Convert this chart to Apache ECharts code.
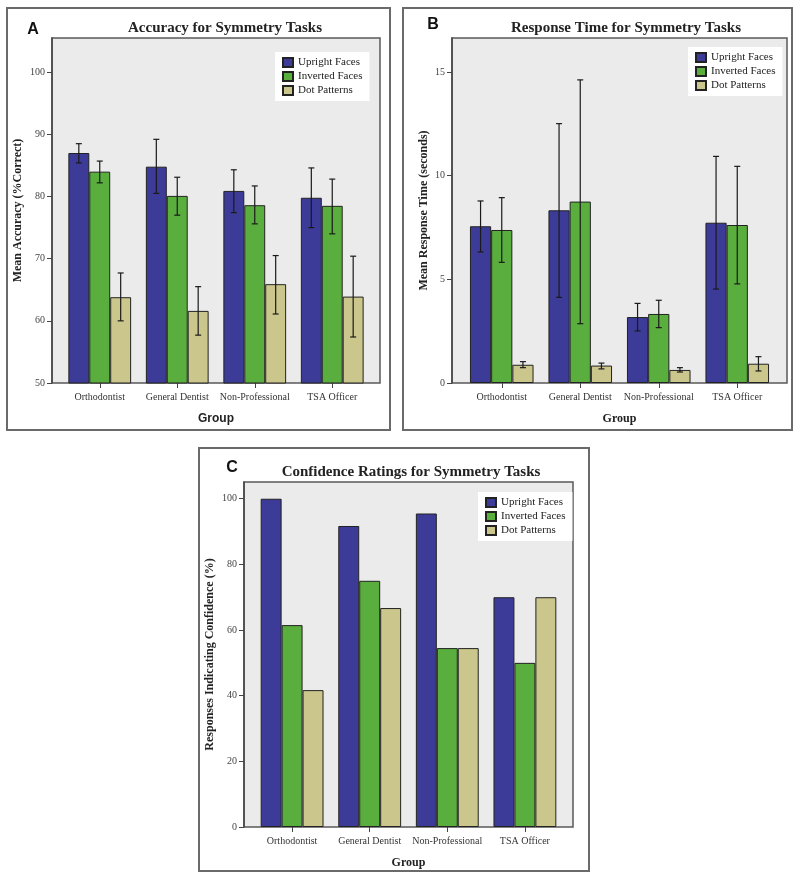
<!DOCTYPE html>
<html>
<head>
<meta charset="utf-8">
<script src="https://cdn.jsdelivr.net/npm/echarts@6/dist/echarts.min.js"></script>
<style>html,body{margin:0;padding:0;background:#fff}#c{width:800px;height:881px}</style>
</head>
<body>
<div id="c"></div>
<script>
// ---------- data ----------
var groups = ['Orthodontist', 'General Dentist', 'Non-Professional', 'TSA Officer'];
var seriesNames = ['Upright Faces', 'Inverted Faces', 'Dot Patterns'];

// Panel A: accuracy (% correct)
var accUpright = [87.0, 84.8, 80.9, 79.8];
var accInverted = [84.0, 80.1, 78.6, 78.5];
var accDot = [63.8, 61.6, 65.9, 63.9];
var accUprightErr = [[85.4, 88.5], [80.5, 89.2], [77.4, 84.3], [75.0, 84.6]];
var accInvertedErr = [[82.2, 85.7], [77.0, 83.1], [75.6, 81.7], [74.0, 82.8]];
var accDotErr = [[60.0, 67.7], [57.7, 65.5], [61.1, 70.5], [57.4, 70.4]];
var accTicks = [50, 60, 70, 80, 90, 100];

// Panel B: response time (seconds)
var rtUpright = [7.56, 8.33, 3.18, 7.73];
var rtInverted = [7.38, 8.75, 3.33, 7.62];
var rtDot = [0.88, 0.84, 0.63, 0.93];
var rtUprightErr = [[6.32, 8.78], [4.13, 12.51], [2.51, 3.84], [4.53, 10.93]];
var rtInvertedErr = [[5.82, 8.94], [2.86, 14.62], [2.67, 3.99], [4.78, 10.45]];
var rtDotErr = [[0.74, 1.03], [0.68, 0.96], [0.53, 0.74], [0.58, 1.27]];
var rtTicks = [0, 5, 10, 15];

// Panel C: confidence (%)
var confUpright = [100, 91.7, 95.5, 70];
var confInverted = [61.5, 75, 54.5, 50];
var confDot = [41.7, 66.7, 54.5, 70];
var confTicks = [0, 20, 40, 60, 80, 100];

// ---------- style ----------
var COLORS = ['#3c3c98', '#5aae3e', '#cbc68c'];
var SERIF = 'Liberation Serif';
var SANS = 'Liberation Sans';
var GAP = 0.19;

var chart = echarts.init(document.getElementById('c'));

function errRender(params, api) {
  var cat = api.value(0), s = api.value(1), lo = api.value(2), hi = api.value(3);
  var band = api.size([1, 0])[0];
  var barW = band * (1 - GAP) / 3;
  var pLo = api.coord([cat, lo]), pHi = api.coord([cat, hi]);
  var x = pLo[0] + (s - 1) * barW;
  var st = { stroke: '#1a1a1a', lineWidth: 1.2 };
  var cap = 3;
  return {
    type: 'group',
    children: [
      { type: 'line', shape: { x1: x, y1: pLo[1], x2: x, y2: pHi[1] }, style: st },
      { type: 'line', shape: { x1: x - cap, y1: pHi[1], x2: x + cap, y2: pHi[1] }, style: st },
      { type: 'line', shape: { x1: x - cap, y1: pLo[1], x2: x + cap, y2: pLo[1] }, style: st }
    ]
  };
}

function errData(errs) {
  var out = [];
  errs.forEach(function (arr, s) {
    arr.forEach(function (e, i) { out.push([i, s, e[0], e[1]]); });
  });
  return out;
}

function barSeries(idx, vals) {
  return vals.map(function (v, s) {
    return {
      type: 'bar', name: seriesNames[s], xAxisIndex: idx, yAxisIndex: idx,
      data: v, barGap: '0%', barCategoryGap: (GAP * 100) + '%',
      itemStyle: { color: COLORS[s], borderColor: '#222', borderWidth: 1 },
      emphasis: { disabled: true }, animation: false
    };
  });
}

var panels = [
  { plot: [52, 38, 380, 383], pad: 9, box: [7, 8, 390, 430], letter: ['A', 28, 25],
    title: ['Accuracy for Symmetry Tasks', 220, 23], legend: [275, 52],
    min: 50, max: 105.5, ticks: accTicks, yname: 'Mean Accuracy (%Correct)', ynameGap: 28,
    groupFont: SANS },
  { plot: [452, 38, 787, 383], pad: 10.5, box: [403, 8, 792, 430], letter: ['B', 428, 20],
    title: ['Response Time for Symmetry Tasks', 621, 23], legend: [688, 47],
    min: 0, max: 16.64, ticks: rtTicks, yname: 'Mean Response Time (seconds)', ynameGap: 22,
    groupFont: SERIF },
  { plot: [244, 482, 573, 827], pad: 9.3, box: [199, 448, 589, 871], letter: ['C', 227, 463],
    title: ['Confidence Ratings for Symmetry Tasks', 406, 467], legend: [478, 492],
    min: 0, max: 105.1, ticks: confTicks, yname: 'Responses Indicating Confidence (%)', ynameGap: 28,
    groupFont: SERIF }
];

var grids = [], xAxes = [], yAxes = [], legends = [], titles = [], graphics = [];
panels.forEach(function (p, i) {
  var l = p.plot[0] + p.pad, r = p.plot[2] - p.pad;
  grids.push({ left: l, top: p.plot[1], width: r - l, height: p.plot[3] - p.plot[1], containLabel: false });
  xAxes.push({
    type: 'category', gridIndex: i, data: groups,
    name: 'Group', nameLocation: 'middle', nameGap: 30,
    nameTextStyle: { fontFamily: p.groupFont, fontWeight: 'bold', fontSize: 12, color: '#222' },
    axisLine: { show: false },
    axisTick: { show: true, alignWithLabel: true, length: 5, lineStyle: { color: '#444' } },
    axisLabel: { fontFamily: SERIF, fontSize: 10, color: '#333', margin: 9, interval: 0 },
    splitLine: { show: false }
  });
  yAxes.push({
    type: 'value', gridIndex: i, min: p.min, max: p.max, offset: p.pad,
    name: p.yname, nameLocation: 'middle', nameRotate: 90, nameGap: p.ynameGap,
    nameTextStyle: { fontFamily: SERIF, fontWeight: 'bold', fontSize: 12, color: '#222' },
    axisLine: { show: true, lineStyle: { color: '#444', width: 1.5 } },
    axisTick: { show: true, length: 5, customValues: p.ticks, lineStyle: { color: '#444' } },
    axisLabel: { customValues: p.ticks, fontFamily: SERIF, fontSize: 10, color: '#444', margin: 7 },
    splitLine: { show: false }
  });
  legends.push({
    left: p.legend[0], top: p.legend[1], orient: 'vertical', data: seriesNames,
    icon: 'rect',
    backgroundColor: '#fff', padding: [5, 7, 5, 7], itemWidth: 10, itemHeight: 9, itemGap: 3,
    selectedMode: false,
    textStyle: { fontFamily: SERIF, fontSize: 11, color: '#222', lineHeight: 10 }
  });
  titles.push({
    text: p.title[0], left: p.title[1], top: p.title[2], textAlign: 'center', textVerticalAlign: 'middle',
    textStyle: { fontFamily: SERIF, fontWeight: 'bold', fontSize: 15, color: '#222' }
  });
  titles.push({
    text: p.letter[0], left: p.letter[1], top: p.letter[2], textAlign: 'center', textVerticalAlign: 'middle',
    textStyle: { fontFamily: SANS, fontWeight: 'bold', fontSize: 16, color: '#111' }
  });
  graphics.push({
    type: 'rect', z: -10, silent: true,
    shape: { x: p.box[0], y: p.box[1], width: p.box[2] - p.box[0], height: p.box[3] - p.box[1] },
    style: { fill: '#fff', stroke: '#6a6a6a', lineWidth: 2 }
  });
  graphics.push({
    type: 'rect', z: -9, silent: true,
    shape: { x: p.plot[0], y: p.plot[1], width: p.plot[2] - p.plot[0], height: p.plot[3] - p.plot[1] },
    style: { fill: '#ebebeb', stroke: '#5a5a5a', lineWidth: 1.5 }
  });
});

var series = [];
series = series.concat(barSeries(0, [accUpright, accInverted, accDot]));
series = series.concat(barSeries(1, [rtUpright, rtInverted, rtDot]));
series = series.concat(barSeries(2, [confUpright, confInverted, confDot]));
series.push({ type: 'custom', xAxisIndex: 0, yAxisIndex: 0, renderItem: errRender, z: 5,
  encode: { x: 0, y: [2, 3] }, data: errData([accUprightErr, accInvertedErr, accDotErr]), silent: true, animation: false });
series.push({ type: 'custom', xAxisIndex: 1, yAxisIndex: 1, renderItem: errRender, z: 5,
  encode: { x: 0, y: [2, 3] }, data: errData([rtUprightErr, rtInvertedErr, rtDotErr]), silent: true, animation: false });

chart.setOption({
  animation: false,
  title: titles,
  legend: legends,
  grid: grids,
  xAxis: xAxes,
  yAxis: yAxes,
  graphic: { elements: graphics },
  series: series
});
</script>
</body>
</html>
